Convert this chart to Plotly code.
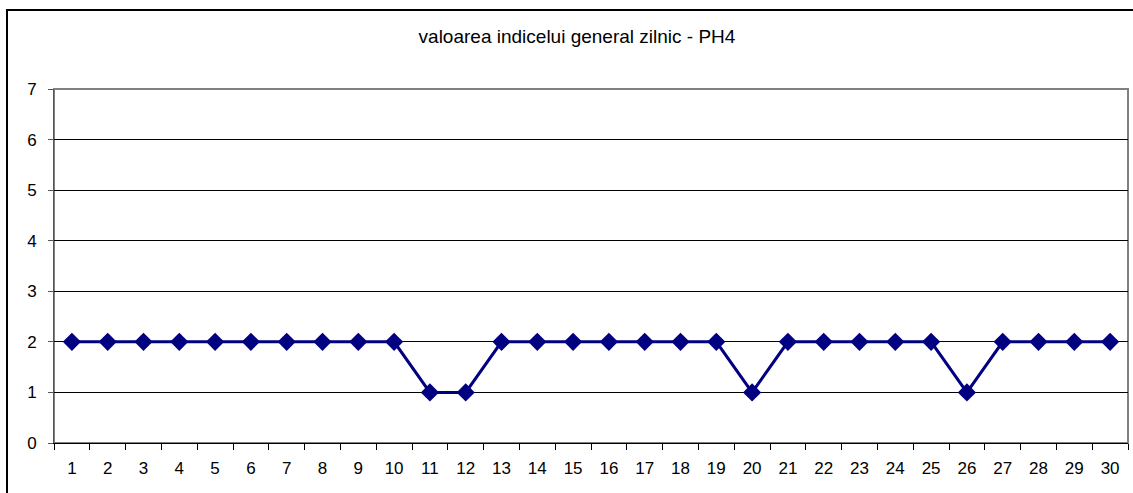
import plotly.graph_objects as go

zile = [str(i) for i in range(1, 31)]
valori = [2, 2, 2, 2, 2, 2, 2, 2, 2, 2,
          1, 1, 2, 2, 2, 2, 2, 2, 2, 1,
          2, 2, 2, 2, 2, 1, 2, 2, 2, 2]
y_ticks = [0, 1, 2, 3, 4, 5, 6, 7]

W, H = 1133, 493
L, R, T, B = 54, 5, 89, 50
pw, ph = W - L - R, H - T - B

fig = go.Figure(go.Scatter(
    x=zile, y=valori, mode='lines+markers',
    line=dict(color='#000080', width=3),
    marker=dict(symbol='diamond', size=14, color='#000080'),
    cliponaxis=False
))

fig.update_layout(
    width=W, height=H,
    margin=dict(l=L, r=R, t=T, b=B, autoexpand=False),
    paper_bgcolor='white', plot_bgcolor='white',
    showlegend=False,
    font=dict(family='Liberation Sans, Arial', size=17, color='black'),
    title=dict(text='valoarea indicelui general zilnic - PH4',
               x=577 / W, xanchor='center', y=1 - 36 / H, yanchor='middle',
               font=dict(size=19)),
    xaxis=dict(type='category', range=[-0.5, 29.5], showgrid=False,
               ticks='outside', tickson='boundaries', automargin=False,
               ticklen=6, tickcolor='black', showline=True, linecolor='black',
               linewidth=1, mirror=False, tickfont=dict(size=17),
               ticklabelstandoff=10),
    yaxis=dict(range=[0, 7], tickvals=y_ticks, showgrid=True, gridcolor='black',
               gridwidth=1, ticks='outside', ticklen=5, tickcolor='#555555',
               showline=True, linecolor='#555555', linewidth=1, zeroline=False,
               automargin=False, tickfont=dict(size=17), ticklabelstandoff=8),
    shapes=[
        # chenarul zonei de grafic (sus / dreapta gri)
        dict(type='rect', xref='paper', yref='paper', x0=0, x1=1, y0=0, y1=1,
             line=dict(color='#808080', width=2), layer='below'),
        # chenarul exterior
        dict(type='rect', xref='paper', yref='paper',
             x0=(7 - L) / pw, x1=(W + 5 - L) / pw,
             y0=-(H + 5 - (H - B)) / ph, y1=1 + (T - 10) / ph,
             line=dict(color='black', width=2)),
    ]
)

fig.write_html("out.html", config={'displayModeBar': False},
               post_script="document.body.style.margin='0';")
